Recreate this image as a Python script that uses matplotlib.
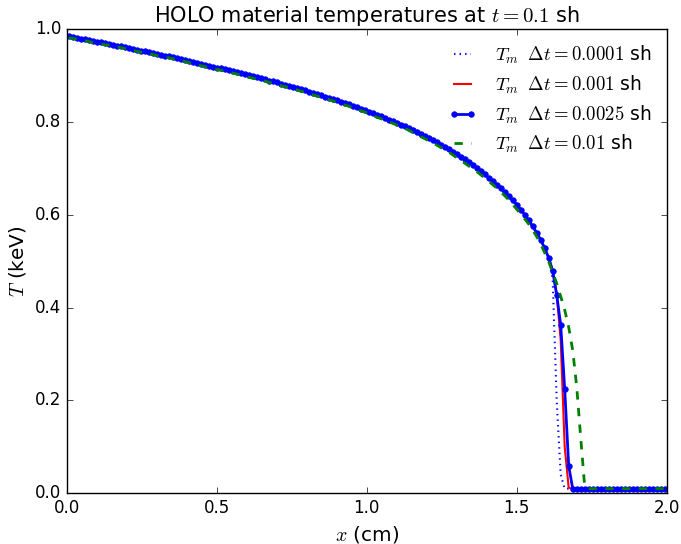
import matplotlib
matplotlib.use("Agg")
import matplotlib.pyplot as plt
import numpy as np

plt.style.use("classic")

# Spatial mesh: 150 cells on [0, 2] cm, values at cell centres
n_cells = 150
x_left, x_right = 0.0, 2.0

# Common profile behind the front (cells 0..120), shared by the three finer time steps
t_core = [
    0.984, 0.983, 0.981, 0.979, 0.978, 0.976, 0.974, 0.973, 0.971, 0.969,
    0.968, 0.966, 0.964, 0.963, 0.961, 0.959, 0.957, 0.955, 0.953, 0.952,
    0.950, 0.948, 0.946, 0.944, 0.942, 0.941, 0.939, 0.937, 0.935, 0.933,
    0.931, 0.929, 0.927, 0.925, 0.923, 0.921, 0.919, 0.917, 0.915, 0.913,
    0.911, 0.909, 0.907, 0.905, 0.903, 0.900, 0.898, 0.896, 0.894, 0.892,
    0.889, 0.887, 0.885, 0.882, 0.880, 0.878, 0.875, 0.873, 0.870, 0.868,
    0.865, 0.862, 0.860, 0.857, 0.854, 0.852, 0.849, 0.846, 0.843, 0.840,
    0.838, 0.834, 0.831, 0.828, 0.825, 0.822, 0.819, 0.815, 0.812, 0.809,
    0.805, 0.802, 0.798, 0.794, 0.791, 0.787, 0.783, 0.778, 0.774, 0.770,
    0.765, 0.761, 0.756, 0.751, 0.746, 0.741, 0.736, 0.730, 0.724, 0.719,
    0.713, 0.707, 0.701, 0.694, 0.687, 0.680, 0.673, 0.665, 0.657, 0.649,
    0.640, 0.631, 0.622, 0.611, 0.600, 0.588, 0.575, 0.561, 0.546, 0.528,
    0.507,
]

# Front region and cold floor (cells 121..149) for each time step
front_dt0001 = [
    0.460, 0.200, 0.040, 0.010, 0.010, 0.010, 0.010, 0.010, 0.010, 0.010,
    0.010, 0.010, 0.010, 0.010, 0.010, 0.010, 0.010, 0.010, 0.010, 0.010,
    0.010, 0.010, 0.010, 0.010, 0.010, 0.010, 0.010, 0.010, 0.010,
]
front_dt001 = [
    0.479, 0.430, 0.330, 0.100, 0.012, 0.010, 0.010, 0.010, 0.010, 0.010,
    0.010, 0.010, 0.010, 0.010, 0.010, 0.010, 0.010, 0.010, 0.010, 0.010,
    0.010, 0.010, 0.010, 0.010, 0.010, 0.010, 0.010, 0.010, 0.010,
]
front_dt0025 = [
    0.479, 0.427, 0.363, 0.225, 0.059, 0.010, 0.010, 0.010, 0.010, 0.010,
    0.010, 0.010, 0.010, 0.010, 0.010, 0.010, 0.010, 0.010, 0.010, 0.010,
    0.010, 0.010, 0.010, 0.010, 0.010, 0.010, 0.010, 0.010, 0.010,
]

# Coarsest time step: full profile
t_dt01 = [
    0.981, 0.980, 0.978, 0.976, 0.975, 0.973, 0.971, 0.970, 0.968, 0.966,
    0.965, 0.963, 0.961, 0.960, 0.958, 0.956, 0.954, 0.952, 0.950, 0.949,
    0.947, 0.945, 0.943, 0.941, 0.939, 0.938, 0.936, 0.934, 0.932, 0.930,
    0.928, 0.925, 0.923, 0.921, 0.919, 0.917, 0.915, 0.913, 0.911, 0.909,
    0.907, 0.905, 0.903, 0.901, 0.899, 0.896, 0.894, 0.892, 0.890, 0.888,
    0.885, 0.883, 0.881, 0.878, 0.876, 0.874, 0.871, 0.869, 0.866, 0.864,
    0.861, 0.858, 0.856, 0.853, 0.850, 0.848, 0.845, 0.842, 0.839, 0.836,
    0.834, 0.830, 0.827, 0.824, 0.821, 0.818, 0.814, 0.810, 0.807, 0.804,
    0.800, 0.797, 0.793, 0.789, 0.786, 0.782, 0.777, 0.772, 0.768, 0.764,
    0.759, 0.755, 0.750, 0.745, 0.740, 0.735, 0.729, 0.723, 0.717, 0.711,
    0.705, 0.699, 0.693, 0.686, 0.679, 0.672, 0.665, 0.657, 0.649, 0.641,
    0.632, 0.622, 0.612, 0.601, 0.591, 0.580, 0.567, 0.553, 0.537, 0.518,
    0.499, 0.476, 0.452, 0.424, 0.395, 0.358, 0.308, 0.230, 0.120, 0.015,
    0.010, 0.010, 0.010, 0.010, 0.010, 0.010, 0.010, 0.010, 0.010, 0.010,
    0.010, 0.010, 0.010, 0.010, 0.010, 0.010, 0.010, 0.010, 0.010, 0.010,
]

t_dt0001 = t_core + front_dt0001
t_dt001 = t_core + front_dt001
t_dt0025 = t_core + front_dt0025

labels = [
    r"$T_m\;\;\Delta t = 0.0001$ sh",
    r"$T_m\;\;\Delta t = 0.001$ sh",
    r"$T_m\;\;\Delta t = 0.0025$ sh",
    r"$T_m\;\;\Delta t = 0.01$ sh",
]

dx = (x_right - x_left) / n_cells
x = x_left + dx * (np.arange(n_cells) + 0.5)

fig = plt.figure(figsize=(6.81, 5.44), dpi=100, facecolor="white")
ax = fig.add_axes([0.0979, 0.0932, 0.8811, 0.8535])
ax.set_facecolor("white")

ax.plot(x, t_dt0001, color="b", linestyle=":", linewidth=1.5, label=labels[0])
ax.plot(x, t_dt001, color="r", linestyle="-", linewidth=1.5, label=labels[1])
ax.plot(x, t_dt0025, color="b", linestyle="-", marker=".", markersize=8,
        markeredgecolor="b", linewidth=2, label=labels[2])
ax.plot(x, t_dt01, color="g", linestyle="--", linewidth=2, label=labels[3])

ax.set_xlim(0.0, 2.0)
ax.set_ylim(0.0, 1.0)
ax.set_xticks([0.0, 0.5, 1.0, 1.5, 2.0])
ax.set_yticks([0.0, 0.2, 0.4, 0.6, 0.8, 1.0])
ax.set_xlabel(r"$x$ (cm)", fontsize=14.4)
ax.set_ylabel(r"$T$ (keV)", fontsize=14.4)
ax.set_title(r"HOLO material temperatures at $t = 0.1$ sh", fontsize=15)
ax.tick_params(labelsize=12)

ax.legend(loc="upper right", frameon=False, fontsize=13.5, handlelength=1.5,
          handletextpad=1.0, labelspacing=0.4, borderaxespad=0.4)

fig.savefig("out.png", dpi=100, facecolor="white")
